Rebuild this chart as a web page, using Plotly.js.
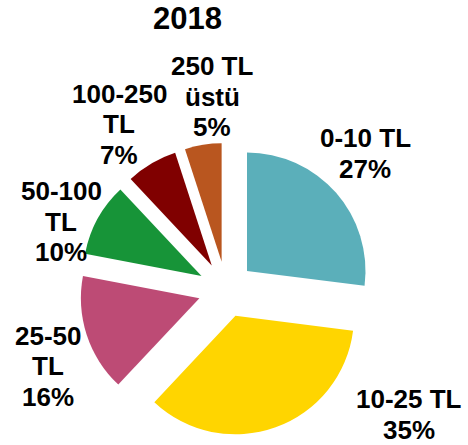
<!DOCTYPE html>
<html>
<head>
<meta charset="utf-8">
<script src="https://cdn.plot.ly/plotly-3.0.1.min.js"></script>
<style>html,body{margin:0;padding:0;background:#fff}#chart{width:468px;height:445px}</style>
</head>
<body>
<div id="chart"></div>
<script>
// Data
var categories = ["0-10 TL", "10-25 TL", "25-50 TL", "50-100 TL", "100-250 TL", "250 TL üstü"];
var labelLines = [["0-10 TL"], ["10-25 TL"], ["25-50", "TL"], ["50-100", "TL"], ["100-250", "TL"], ["250 TL", "üstü"]];
var shares = [27, 35, 16, 10, 7, 5];
var chartTitle = "2018";

// Styles / layout
var colors = ["#5BAFBA", "#FFD500", "#BD4B75", "#179438", "#800000", "#B9561F"];
var labelPos = [[365, 153.5], [409, 414.5], [48, 366], [61, 221.5], [119, 124], [212, 97]];
var linePitch = 30.5;
var W = 468, H = 445;
var font = "Arial, 'Liberation Sans', sans-serif";

var annotations = [];
categories.forEach(function (c, i) {
  var lines = labelLines[i].concat([shares[i] + "%"]);
  var n = lines.length;
  lines.forEach(function (t, k) {
    var yc = labelPos[i][1] + (k - (n - 1) / 2) * linePitch;
    annotations.push({
      text: "<b>" + t + "</b>",
      xref: "paper", yref: "paper",
      x: labelPos[i][0] / W, y: 1 - yc / H,
      xanchor: "center", yanchor: "middle", align: "center",
      showarrow: false,
      font: {family: font, size: 26, color: "#000"}
    });
  });
});
annotations.push({
  text: "<b>" + chartTitle + "</b>",
  xref: "paper", yref: "paper",
  x: 187 / W, y: 1 - 18.5 / H, xanchor: "center", yanchor: "middle",
  showarrow: false,
  font: {family: font, size: 31, color: "#000"}
});

var trace = {
  type: "pie",
  labels: categories,
  values: shares,
  sort: false,
  direction: "clockwise",
  rotation: 0,
  pull: shares.map(function () { return 0.236; }),
  marker: {colors: colors, line: {width: 0}},
  textinfo: "none",
  hoverinfo: "label+percent",
  domain: {x: [79.5 / W, 372.5 / W], y: [1 - 436 / H, 1 - 143 / H]}
};

Plotly.newPlot("chart", [trace], {
  width: W, height: H,
  margin: {l: 0, r: 0, t: 0, b: 0},
  paper_bgcolor: "#fff",
  showlegend: false,
  annotations: annotations
}, {displayModeBar: false, staticPlot: true});
</script>
</body>
</html>
